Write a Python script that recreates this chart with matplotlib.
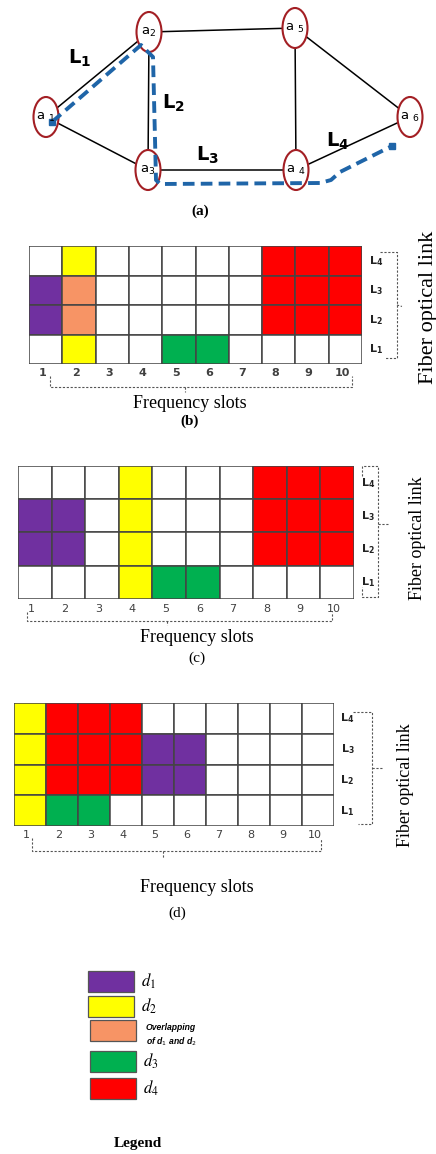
import numpy as np
import matplotlib.pyplot as plt
from matplotlib.patches import Ellipse, Rectangle

plt.rcParams['mathtext.fontset'] = 'stix'

W, H = 436, 1154

# ---- (a) network ----
node_labels = ['a $_1$', 'a$_2$', 'a$_3$', 'a $_4$', 'a $_5$', 'a $_6$']
node_x = [46, 149, 148, 296, 295, 410]
node_y = [117, 32, 170, 170, 28, 117]
edges = [(0, 1), (0, 2), (1, 2), (1, 4), (2, 3), (4, 3), (4, 5), (3, 5)]
link_names = ['1', '2', '3', '4']
link_x = [80, 173, 208, 338]
link_y = [58, 103, 155, 141]
route_x = [52, 141, 153, 156, 160, 320, 331, 340, 392]
route_y = [122, 45, 57, 180, 184, 183, 180, 172, 146]

# ---- spectrum grids: rows L4..L1, one char per frequency slot ----
slots = list(range(1, 11))
grid_b = ['.2.....444',
          '1o.....444',
          '1o.....444',
          '.2..33....']
grid_c = ['...2...444',
          '11.2...444',
          '11.2...444',
          '...233....']
grid_d = ['2444......',
          '244411....',
          '244411....',
          '233.......']

legend_keys = ['1', '2', 'o', '3', '4']
legend_names = [r'$d_1$', r'$d_2$', None, r'$d_3$', r'$d_4$']
fill = {'.': 'white', '1': '#7030A0', '2': '#FFFF00', 'o': '#F79465',
        '3': '#00B050', '4': '#FF0000'}

fig = plt.figure(figsize=(W / 100, H / 100), dpi=100)
ax0 = fig.add_axes([0, 0, 1, 1])
ax0.set_xlim(0, W)
ax0.set_ylim(H, 0)
ax0.axis('off')

serif = 'Liberation Serif'
gray = '#555555'

# network edges, nodes, route
for i, j in edges:
    ax0.plot([node_x[i], node_x[j]], [node_y[i], node_y[j]], color='black', lw=1.1, zorder=1)
ax0.plot(route_x, route_y, color='#1F65A8', lw=2.8, ls=(0, (3, 1.6)), zorder=3)
ax0.plot(route_x[0], route_y[0], marker='s', ms=5, color='#1F65A8', zorder=4)
ax0.plot(route_x[-1], route_y[-1], marker='s', ms=5, color='#1F65A8', zorder=4)
for lab, x, y in zip(node_labels, node_x, node_y):
    ax0.add_patch(Ellipse((x, y), 25, 40, facecolor='white', edgecolor='#A31F24', lw=1.5, zorder=2))
    ax0.text(x, y, lab, ha='center', va='center', fontsize=9.5, family='DejaVu Sans',
             math_fontfamily='dejavusans', zorder=5)
for n, x, y in zip(link_names, link_x, link_y):
    ax0.text(x, y, r'$\mathbf{L_%s}$' % n, ha='center', va='center', fontsize=14,
             math_fontfamily='dejavusans')
ax0.text(200, 211, '(a)', ha='center', va='center', fontsize=11, weight='bold', family=serif)


def draw_grid(box, rows, bold_nums):
    x0, x1, y0, y1 = box
    ax = fig.add_axes([x0 / W, 1 - y1 / H, (x1 - x0) / W, (y1 - y0) / H])
    ax.set_xlim(0, 10)
    ax.set_ylim(0, 4)
    ax.axis('off')
    for r, row in enumerate(rows):
        link = len(rows) - 1 - r
        for s, code in enumerate(row):
            ax.add_patch(Rectangle((s, link), 1, 1, facecolor=fill[code],
                                   edgecolor='#444444', lw=1.1))
    for s in slots:
        ax.text(s - 0.6, -0.3, str(s), ha='center', va='center', fontsize=8,
                color='#404040', weight='bold' if bold_nums else 'normal',
                family='DejaVu Sans')
    for k in range(4):
        ax.text(10.42, k + 0.5, r'$\mathbf{L_%d}$' % (k + 1), ha='center', va='center',
                fontsize=8, color='#222222', math_fontfamily='dejavusans')
    return ax


def dashed(ax, xs, ys):
    ax.plot(xs, ys, color=gray, lw=0.8, ls=(0, (2, 1.5)), clip_on=False)


# (b)
axb = draw_grid((29, 362, 246, 364), grid_b, True)
dashed(axb, [10.55, 11.05, 11.05, 10.7], [3.8, 3.8, 0.2, 0.2])
dashed(axb, [11.05, 11.2], [2.0, 1.95])
dashed(axb, [0.63, 0.63, 9.7, 9.7], [-0.4, -0.78, -0.78, -0.4])
dashed(axb, [4.68, 4.68], [-0.78, -0.95])
ax0.text(428, 307, 'Fiber optical link', rotation=90, ha='center', va='center',
         fontsize=16, family=serif)
ax0.text(190, 404, 'Frequency slots', ha='center', va='center', fontsize=13, family=serif)
ax0.text(190, 421, '(b)', ha='center', va='center', fontsize=11, weight='bold', family=serif)

# (c)
axc = draw_grid((18, 354, 466, 599), grid_c, False)
dashed(axc, [10.25, 10.25, 10.7, 10.7, 10.25, 10.25], [3.7, 4.0, 4.0, 0.05, 0.05, 0.35])
dashed(axc, [10.7, 11.05], [2.25, 2.25])
dashed(axc, [0.27, 0.27, 9.35, 9.35], [-0.38, -0.66, -0.66, -0.38])
dashed(axc, [4.43, 4.43], [-0.66, -0.78])
ax0.text(417, 538, 'Fiber optical link', rotation=90, ha='center', va='center',
         fontsize=13, family=serif)
ax0.text(197, 638, 'Frequency slots', ha='center', va='center', fontsize=13, family=serif)
ax0.text(197, 658, '(c)', ha='center', va='center', fontsize=11, family=serif)

# (d)
axd = draw_grid((14, 334, 703, 826), grid_d, False)
dashed(axd, [10.6, 11.2, 11.2, 10.75], [3.7, 3.7, 0.07, 0.07])
dashed(axd, [11.2, 11.5], [1.9, 1.9])
dashed(axd, [0.56, 0.56, 9.6, 9.6], [-0.4, -0.81, -0.81, -0.4])
dashed(axd, [4.65, 4.65], [-0.81, -1.05])
ax0.text(405, 785, 'Fiber optical link', rotation=90, ha='center', va='center',
         fontsize=13, family=serif)
ax0.text(197, 887, 'Frequency slots', ha='center', va='center', fontsize=13, family=serif)
ax0.text(177, 913, '(d)', ha='center', va='center', fontsize=11, family=serif)

# legend
sw_x = [88, 88, 90, 90, 90]
sw_y = [971, 996, 1020, 1051, 1078]
for key, name, x, y in zip(legend_keys, legend_names, sw_x, sw_y):
    ax0.add_patch(Rectangle((x, y), 46, 21, facecolor=fill[key], edgecolor='#555555', lw=0.9))
    if name is not None:
        ax0.text(x + 53, y + 10, name, ha='left', va='center', fontsize=12)
ax0.text(146, 1027, 'Overlapping', ha='left', va='center', fontsize=6.2,
         weight='bold', style='italic', family='Liberation Sans')
ax0.text(146, 1042, 'of d$_1$ and d$_2$', ha='left', va='center', fontsize=6.2,
         weight='bold', style='italic', family='Liberation Sans', math_fontfamily='dejavusans')
ax0.text(138, 1143, 'Legend', ha='center', va='center', fontsize=11, weight='bold', family=serif)

fig.savefig('out.png', dpi=100)
